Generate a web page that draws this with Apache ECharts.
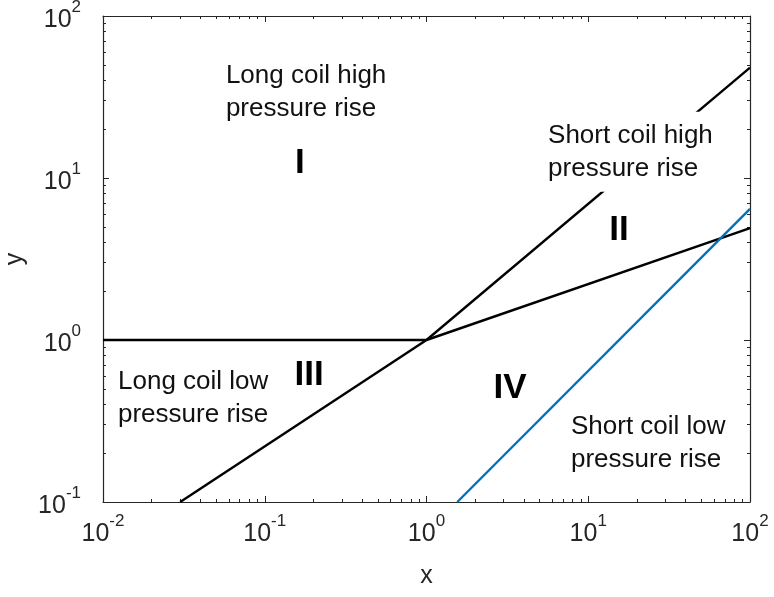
<!DOCTYPE html>
<html>
<head>
<meta charset="utf-8">
<script src="https://cdn.jsdelivr.net/npm/echarts@6/dist/echarts.min.js"></script>
<style>
  html, body { margin: 0; padding: 0; background: #fff; }
  #main { width: 774px; height: 597px; }
</style>
</head>
<body>
<div id="main"></div>
<script>
const FONT = '"Liberation Sans", Arial, Helvetica, sans-serif'
const AXIS_COLOR = '#262626'

// tick labels (decades)
const xMajor = [0.01, 0.1, 1, 10, 100]
const yMajor = [0.1, 1, 10, 100]

// boundary lines between the regions
const flatLine = [[0.01, 1], [1, 1]]
const lowerLine = [[0.03, 0.1], [1, 1]]
const upperLine = [[1, 1], [100, 48]]
const middleLine = [[1, 1], [100, 4.9]]
const blueLine = [[1.55, 0.1], [100, 6.45]]

// region annotations
const regionTexts = ['Long coil high\npressure rise', 'Short coil high\npressure rise', 'Long coil low\npressure rise', 'Short coil low\npressure rise']
const regionTextPos = [[0.0575, 34], [5.33, 14.5], [0.01238, 0.438], [7.82, 0.231]]
const numerals = ['I', 'II', 'III', 'IV']
const numeralPos = [[0.165, 12.4], [15.5, 4.78], [0.188, 0.608], [3.28, 0.506]]

function minorTicks (majors) {
  const out = []
  for (let i = 0; i < majors.length - 1; i++) {
    for (let m = 2; m <= 9; m++) out.push(+(majors[i] * m).toPrecision(3))
  }
  return out
}

function powLabel (v) {
  const e = Math.round(Math.log10(v))
  return '{b|10}{s|' + e + '}'
}

const labelRich = {
  b: { fontSize: 25, fontFamily: FONT, color: AXIS_COLOR, padding: [9, 0, 0, 0] },
  s: { fontSize: 17, fontFamily: FONT, color: AXIS_COLOR, verticalAlign: 'top' }
}

function makeAxis (pos, majors, min, max, minor, extra) {
  const ax = {
    type: 'log',
    logBase: 10,
    min: min,
    max: max,
    position: pos,
    splitLine: { show: false },
    axisLine: { show: !minor, lineStyle: { color: AXIS_COLOR, width: 1.2 } },
    axisTick: {
      show: true,
      inside: true,
      length: minor ? 3 : 6,
      customValues: minor ? minorTicks(majors) : majors,
      lineStyle: { color: AXIS_COLOR, width: 1 }
    },
    axisLabel: { show: false }
  }
  return Object.assign(ax, extra || {})
}

const chart = echarts.init(document.getElementById('main'))

const xLabel = {
  show: true,
  customValues: xMajor,
  formatter: powLabel,
  margin: 11,
  rich: labelRich
}
const yLabel = {
  show: true,
  customValues: yMajor,
  formatter: powLabel,
  margin: 22,
  rich: labelRich
}

const lineSeries = (data, color) => ({
  type: 'line',
  data: data,
  showSymbol: false,
  symbol: 'none',
  silent: true,
  z: 2,
  lineStyle: { color: color, width: 2.4 }
})

const textData = regionTexts.map((t, i) => {
  const item = {
    value: regionTextPos[i],
    label: {
      show: true,
      formatter: t,
      position: 'right',
      distance: 0,
      align: 'left',
      fontSize: 26,
      lineHeight: 33,
      fontFamily: FONT,
      color: '#111'
    }
  }
  if (i === 1) {
    item.label.backgroundColor = '#fff'
    item.label.padding = [7, 4, 7, 4]
  }
  return item
})

const numeralData = numerals.map((t, i) => ({
  value: numeralPos[i],
  label: {
    show: true,
    formatter: t,
    position: 'inside',
    fontSize: 35,
    fontWeight: 'bold',
    fontFamily: FONT,
    color: '#000'
  }
}))

chart.setOption({
  animation: false,
  backgroundColor: '#fff',
  grid: { left: 103, top: 16, right: 24, bottom: 95, containLabel: false, outerBoundsMode: 'none' },
  xAxis: [
    makeAxis('bottom', xMajor, 0.01, 100, false, {
      axisLabel: xLabel,
      name: 'x',
      nameLocation: 'middle',
      nameGap: 62,
      nameTextStyle: { fontSize: 25, fontFamily: FONT, color: AXIS_COLOR }
    }),
    makeAxis('bottom', xMajor, 0.01, 100, true),
    makeAxis('top', xMajor, 0.01, 100, false),
    makeAxis('top', xMajor, 0.01, 100, true)
  ],
  yAxis: [
    makeAxis('left', yMajor, 0.1, 100, false, {
      axisLabel: yLabel,
      name: 'y',
      nameLocation: 'middle',
      nameGap: 66,
      nameTextStyle: { fontSize: 25, fontFamily: FONT, color: AXIS_COLOR }
    }),
    makeAxis('left', yMajor, 0.1, 100, true),
    makeAxis('right', yMajor, 0.1, 100, false),
    makeAxis('right', yMajor, 0.1, 100, true)
  ],
  series: [
    lineSeries(flatLine, '#000'),
    lineSeries(lowerLine, '#000'),
    lineSeries(upperLine, '#000'),
    lineSeries(middleLine, '#000'),
    lineSeries(blueLine, '#0072BD'),
    {
      type: 'scatter',
      symbolSize: 0,
      silent: true,
      z: 5,
      itemStyle: { opacity: 1 },
      data: textData
    },
    {
      type: 'scatter',
      symbolSize: 0,
      silent: true,
      z: 5,
      itemStyle: { opacity: 1 },
      data: numeralData
    }
  ]
})
</script>
</body>
</html>
